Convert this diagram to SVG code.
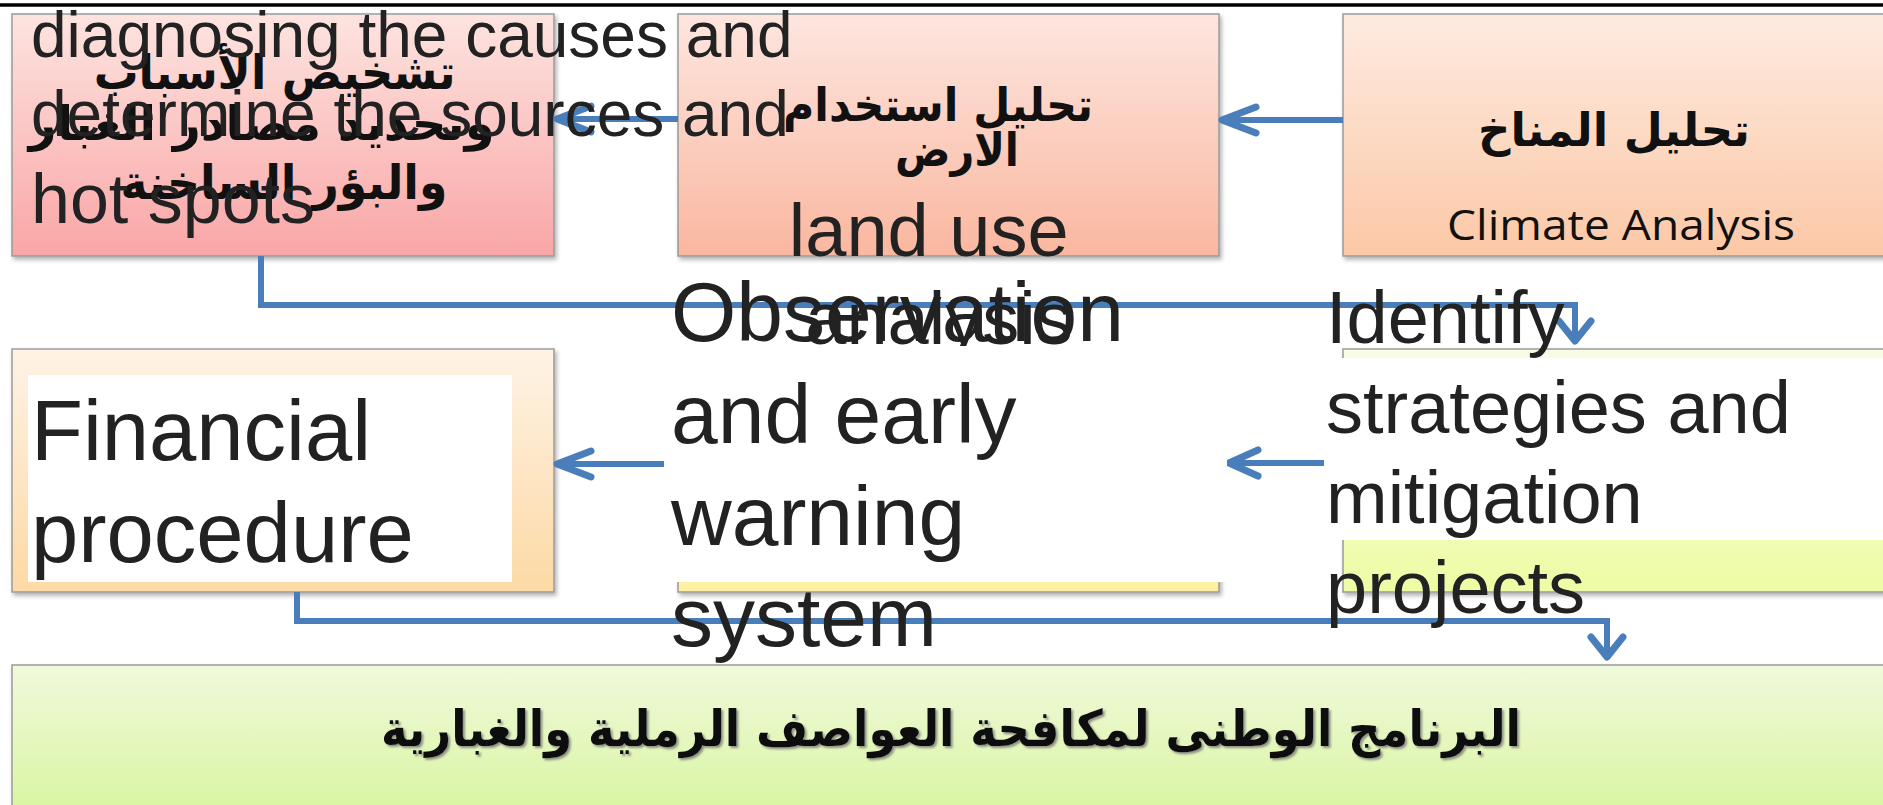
<svg xmlns="http://www.w3.org/2000/svg" width="1883" height="805" viewBox="0 0 1883 805">
<defs>
  <linearGradient id="gPink" x1="0" y1="0" x2="0" y2="1"><stop offset="0" stop-color="#fde4e0"/><stop offset="1" stop-color="#f9a6a6"/></linearGradient>
  <linearGradient id="gSalmon" x1="0" y1="0" x2="0" y2="1"><stop offset="0" stop-color="#fde6df"/><stop offset="1" stop-color="#fab7a0"/></linearGradient>
  <linearGradient id="gPeach" x1="0" y1="0" x2="0" y2="1"><stop offset="0" stop-color="#fdebe0"/><stop offset="1" stop-color="#fcc8a6"/></linearGradient>
  <linearGradient id="gOrange" x1="0" y1="0" x2="0" y2="1"><stop offset="0" stop-color="#fef3e6"/><stop offset="1" stop-color="#fdd9a4"/></linearGradient>
  <linearGradient id="gYellow" x1="0" y1="0" x2="0" y2="1"><stop offset="0" stop-color="#fff9d8"/><stop offset="1" stop-color="#fff0a0"/></linearGradient>
  <linearGradient id="gLime" x1="0" y1="0" x2="0" y2="1"><stop offset="0" stop-color="#f8fce6"/><stop offset="1" stop-color="#eefca4"/></linearGradient>
  <linearGradient id="gGreen" x1="0" y1="0" x2="0" y2="1"><stop offset="0" stop-color="#f1f9dc"/><stop offset="1" stop-color="#d8f5a0"/></linearGradient>
  <filter id="boxShadow" x="-5%" y="-5%" width="110%" height="115%">
    <feDropShadow dx="2" dy="3" stdDeviation="2" flood-color="#000" flood-opacity="0.3"/>
  </filter>
  <filter id="textShadow" x="-2%" y="-20%" width="104%" height="140%">
    <feDropShadow dx="2" dy="2" stdDeviation="0.8" flood-color="#777" flood-opacity="0.8"/>
  </filter>
</defs>
<style>
  .box { stroke: #9a9a9a; stroke-width: 1.5; filter: url(#boxShadow); }
  .en { font-family: "Liberation Sans", Arial, sans-serif; fill: #222; }
  .ar { font-family: "DejaVu Sans", sans-serif; font-weight: bold; fill: #111; }
  .calibri { font-family: "Open Sans", "Noto Sans", sans-serif; fill: #111; }
  .conn { stroke: #4a7ebb; stroke-width: 6; fill: none; }
  .head { stroke: #4a7ebb; stroke-width: 7; fill: none; stroke-linecap: round; stroke-linejoin: round; }
  .bg { fill: #ffffff; }
</style>

<line x1="0" y1="5" x2="1883" y2="5" stroke="#000" stroke-width="3.5"/>

<g id="node-diagnose">
  <rect class="box" x="12" y="14" width="542" height="242" fill="url(#gPink)"/>
  <text class="ar" text-anchor="middle" font-size="48">
    <tspan x="283" y="89" textLength="362" lengthAdjust="spacingAndGlyphs">تشخيص الأسباب</tspan>
    <tspan x="270" y="140" textLength="466" lengthAdjust="spacingAndGlyphs">وتحديد مصادر الغبار</tspan>
    <tspan x="284" y="199" textLength="327" lengthAdjust="spacingAndGlyphs">والبؤر الساخنة</tspan>
  </text>
</g>

<g id="node-landuse">
  <rect class="box" x="678" y="14" width="541" height="242" fill="url(#gSalmon)"/>
  <text class="ar" text-anchor="middle" font-size="46">
    <tspan x="946" y="121" textLength="310" lengthAdjust="spacingAndGlyphs">تحليل استخدام</tspan>
    <tspan x="957" y="166" textLength="124" lengthAdjust="spacingAndGlyphs">الارض</tspan>
  </text>
</g>

<g id="node-climate">
  <rect class="box" x="1343" y="14" width="545" height="242" fill="url(#gPeach)"/>
  <text class="ar" text-anchor="middle" font-size="46" x="1614" y="146" textLength="272" lengthAdjust="spacingAndGlyphs">تحليل المناخ</text>
  <text class="calibri" x="1447" y="240" font-size="42" textLength="348" lengthAdjust="spacingAndGlyphs">Climate Analysis</text>
</g>

<g id="node-financial">
  <rect class="box" x="12" y="349" width="542" height="243" fill="url(#gOrange)"/>
</g>

<g id="node-observation">
  <rect class="box" x="678" y="349" width="541" height="243" fill="url(#gYellow)"/>
</g>

<g id="node-strategies">
  <rect class="box" x="1343" y="349" width="545" height="243" fill="url(#gLime)"/>
</g>

<g id="node-national">
  <rect class="box" x="12" y="665" width="1880" height="150" fill="url(#gGreen)"/>
  <text class="ar" text-anchor="middle" font-size="50" x="951" y="746" textLength="1140" lengthAdjust="spacingAndGlyphs" filter="url(#textShadow)">البرنامج الوطنى لمكافحة العواصف الرملية والغبارية</text>
</g>

<g id="connectors">
  <line class="conn" x1="1343" y1="120" x2="1224" y2="120"/>
  <polyline class="head" points="1256,107 1222,120 1256,133"/>
  <line class="conn" x1="678" y1="119" x2="559" y2="119"/>
  <polyline class="head" points="591,106 557,119 591,132"/>
  <polyline class="conn" points="261,256 261,305 1575,305 1575,338"/>
  <polyline class="head" points="1559,321 1575,341 1591,321"/>
  <line class="conn" x1="1343" y1="463" x2="1231" y2="463"/>
  <polyline class="head" points="1258,450 1229,463 1258,476"/>
  <line class="conn" x1="678" y1="464" x2="560" y2="464"/>
  <polyline class="head" points="591,451 557,464 591,477"/>
  <polyline class="conn" points="297,592 297,621 1607,621 1607,654"/>
  <polyline class="head" points="1591,637 1607,657 1623,637"/>
</g>

<g id="label-diagnose">
  <text class="en" x="31" y="57" font-size="64">diagnosing the causes and</text>
  <text class="en" x="31" y="136" font-size="64">determine the sources and</text>
  <text class="en" x="31" y="223" font-size="70">hot spots</text>
</g>

<g id="label-landuse">
  <text class="en" text-anchor="middle" font-size="74">
    <tspan x="939" y="256">land use</tspan>
    <tspan x="939" y="344">analysis</tspan>
  </text>
</g>

<g id="label-financial">
  <rect class="bg" x="28" y="375" width="484" height="207"/>
  <text class="en" font-size="85">
    <tspan x="31" y="460">Financial</tspan>
    <tspan x="31" y="562">procedure</tspan>
  </text>
</g>

<g id="label-observation">
  <rect class="bg" x="664" y="346" width="563" height="236"/>
  <text class="en" font-size="84">
    <tspan x="671" y="341">Observation</tspan>
    <tspan x="671" y="443">and early</tspan>
    <tspan x="671" y="545">warning</tspan>
    <tspan x="671" y="646">system</tspan>
  </text>
</g>

<g id="label-strategies">
  <rect class="bg" x="1324" y="358" width="565" height="182"/>
  <text class="en" font-size="74">
    <tspan x="1326" y="343">Identify</tspan>
    <tspan x="1326" y="433">strategies and</tspan>
    <tspan x="1326" y="523">mitigation</tspan>
    <tspan x="1326" y="613">projects</tspan>
  </text>
</g>
</svg>
